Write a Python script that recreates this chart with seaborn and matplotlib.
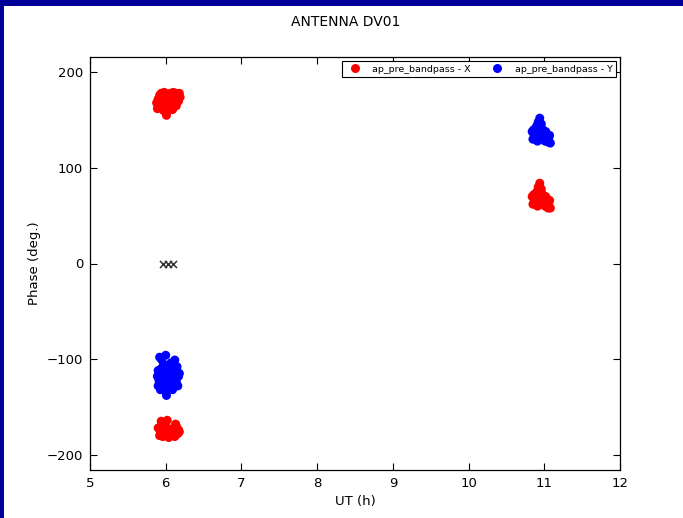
import matplotlib
matplotlib.use("Agg")
import matplotlib.pyplot as plt
from matplotlib.patches import Rectangle
import seaborn as sns
import pandas as pd

# Scan near 6 h: X polarisation (upper branch)
x6_time = [5.88, 5.90, 5.92, 5.94, 5.96, 5.98, 6.00, 6.02, 6.04, 6.06, 6.08, 6.10, 6.12, 6.14,
           6.16, 6.18, 5.89, 5.93, 5.97, 6.01, 6.05, 6.09, 6.13, 6.17, 6.01, 5.91, 6.07, 6.15,
           5.95, 6.03, 6.11, 6.19, 5.92, 5.96, 6.00, 6.04, 6.08, 6.12, 6.16, 5.94, 6.06, 6.14]
x6_phase = [168, 172, 176, 178, 174, 179, 176, 172, 177, 178, 175, 179, 177, 178,
            176, 178, 162, 165, 160, 155, 163, 161, 166, 170, 158, 168, 170, 172,
            164, 166, 168, 174, 170, 168, 166, 170, 172, 172, 170, 174, 166, 165]

# Scan near 6 h: X polarisation (lower branch)
x6b_time = [5.90, 5.94, 5.98, 6.02, 6.06, 6.10, 6.14, 6.17, 5.92, 5.96, 6.00, 6.04, 6.08,
            6.12, 6.16, 5.93, 6.02, 6.13, 6.18, 5.99, 6.05, 6.09, 5.95, 6.15]
x6b_phase = [-172, -165, -175, -164, -178, -176, -170, -174, -180, -181, -177, -182, -179,
             -181, -178, -176, -172, -168, -176, -180, -174, -173, -171, -177]

# Scan near 6 h: Y polarisation
y6_time = [5.90, 5.92, 5.94, 5.96, 5.98, 6.00, 6.02, 6.04, 6.06, 6.08, 6.10, 6.12, 6.14,
           6.16, 6.18, 5.89, 5.93, 5.97, 6.01, 6.05, 6.09, 6.13, 6.17, 5.91, 5.95, 5.99,
           6.03, 6.07, 6.11, 6.15, 6.00, 5.94, 6.02, 6.12, 5.90, 6.08, 6.16, 5.98, 6.04,
           6.10, 5.96, 6.14, 6.06, 5.92]
y6_phase = [-128, -98, -110, -120, -125, -96, -118, -130, -122, -112, -126, -101, -120,
            -128, -115, -118, -132, -105, -138, -108, -132, -110, -118, -122, -128, -115,
            -125, -104, -116, -108, -134, -100, -112, -127, -112, -130, -114, -121, -108,
            -120, -116, -124, -118, -124]

# Scan near 11 h: X and Y polarisation
x11_time = [10.84, 10.86, 10.88, 10.90, 10.92, 10.94, 10.96, 10.98, 11.00, 11.02, 11.04,
            11.06, 11.08, 10.85, 10.89, 10.93, 10.97, 11.01, 11.05, 11.07, 10.95, 10.91,
            11.03, 10.87, 10.86, 10.90, 10.94, 10.98, 11.02, 11.06, 10.93, 10.96]
x11_phase = [70, 68, 72, 75, 80, 84, 78, 72, 68, 70, 64, 60, 58, 62, 64, 66, 68, 60, 58,
             66, 76, 60, 62, 64, 72, 70, 72, 66, 64, 64, 78, 74]
y11_time = [10.84, 10.86, 10.88, 10.90, 10.92, 10.94, 10.96, 10.98, 11.00, 11.02, 11.04,
            11.06, 11.08, 10.85, 10.89, 10.93, 10.97, 11.01, 11.05, 11.07, 10.95, 10.91,
            11.03, 10.87, 10.86, 10.90, 10.94, 10.98, 11.02, 11.06, 10.93, 10.96]
y11_phase = [138, 136, 140, 144, 148, 152, 146, 140, 136, 138, 132, 128, 126, 130, 132,
             134, 136, 128, 127, 134, 144, 128, 130, 132, 140, 138, 140, 134, 132, 132,
             146, 142]

# Flagged samples drawn as crosses at zero phase
flag_time = [5.96, 6.03, 6.10]
flag_phase = [0, 0, 0]

series_x = "ap_pre_bandpass - X"
series_y = "ap_pre_bandpass - Y"

df = pd.DataFrame({
    "time": x6_time + x6b_time + x11_time + y6_time + y11_time,
    "phase": x6_phase + x6b_phase + x11_phase + y6_phase + y11_phase,
    "series": [series_x] * (len(x6_time) + len(x6b_time) + len(x11_time))
              + [series_y] * (len(y6_time) + len(y11_time)),
})
flags = pd.DataFrame({"time": flag_time, "phase": flag_phase})

sns.set_style("ticks")
plt.rcParams["font.family"] = ["DejaVu Sans"]
plt.rcParams["text.color"] = "black"
plt.rcParams["axes.labelcolor"] = "black"

fig = plt.figure(figsize=(6.83, 5.18), dpi=100)
ax = fig.add_axes([90 / 683, 1 - 470 / 518, 530 / 683, 413 / 518])

sns.scatterplot(data=df, x="time", y="phase", hue="series",
                palette={series_x: "#ff0000", series_y: "#0000ff"},
                s=42, linewidth=0, ax=ax)
sns.scatterplot(data=flags, x="time", y="phase", marker="x", color="#333333",
                s=26, linewidth=1.1, ax=ax, legend=False)

ax.set_xlim(5, 12)
ax.set_ylim(-216, 216)
ax.set_xticks(range(5, 13))
ax.set_yticks([-200, -100, 0, 100, 200])
ax.tick_params(direction="in", length=5, width=0.8, top=True, right=True,
               labelsize=9.5, colors="black", labelcolor="black", pad=5)
for sp in ax.spines.values():
    sp.set_linewidth(0.9)
    sp.set_color("black")
ax.set_xlabel("UT (h)", fontsize=9.5, color="black")
ax.set_ylabel("Phase (deg.)", fontsize=9.5, color="black")

leg = ax.legend(loc="upper right", ncol=2, fontsize=6.8, frameon=True, fancybox=False,
                edgecolor="black", framealpha=1, borderaxespad=0.45, handletextpad=0.9,
                columnspacing=1.7, markerscale=1.0, borderpad=0.35)
leg.get_frame().set_linewidth(0.8)
for t in leg.get_texts():
    t.set_color("black")

fig.suptitle("ANTENNA DV01", x=346 / 683, y=1 - 22 / 518, va="center", fontsize=10,
             color="black")

# Dark frame along the top and left edges
fig.add_artist(Rectangle((0, 1 - 6 / 518), 1, 6 / 518, transform=fig.transFigure,
                         facecolor="#000099", edgecolor="none"))
fig.add_artist(Rectangle((0, 0), 4 / 683, 1, transform=fig.transFigure,
                         facecolor="#000099", edgecolor="none"))

fig.savefig("out.png", dpi=100)
